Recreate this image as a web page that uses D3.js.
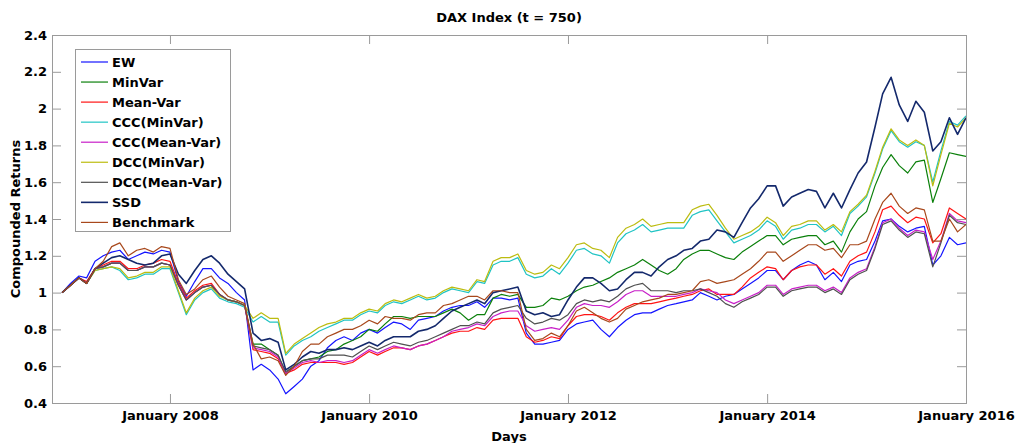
<!DOCTYPE html>
<html>
<head>
<meta charset="utf-8">
<script src="https://cdn.jsdelivr.net/npm/d3@7"></script>
<style>
    body { margin: 0; background: #fff; }
    svg text { font-family: "DejaVu Sans", Verdana, sans-serif; font-weight: bold; font-size: 13px; fill: #000; }
</style>
</head>
<body>
<svg id="chart" width="1017" height="443"></svg>
<script>
/*
 *  Data (monthly, Dec 2006 .. Jan 2016).
 */
const months = d3.timeMonth.range(new Date(2006, 11, 1), new Date(2016, 0, 2));

const names = ["EW", "MinVar", "Mean-Var", "CCC(MinVar)", "CCC(Mean-Var)",
               "DCC(MinVar)", "DCC(Mean-Var)", "SSD", "Benchmark"];

const ew = [1.00,1.05,1.09,1.08,1.17,1.20,1.22,1.23,1.18,1.20,
            1.22,1.21,1.23,1.22,1.06,0.98,1.06,1.13,1.13,1.08,
            1.05,1.00,0.96,0.58,0.61,0.58,0.53,0.45,0.49,0.53,
            0.60,0.63,0.70,0.74,0.76,0.74,0.78,0.80,0.78,0.81,
            0.84,0.83,0.80,0.85,0.86,0.87,0.90,0.92,0.93,0.93,
            0.95,0.92,0.97,0.97,0.96,0.97,0.78,0.72,0.72,0.73,
            0.74,0.80,0.83,0.84,0.85,0.80,0.76,0.81,0.85,0.88,
            0.89,0.89,0.91,0.93,0.94,0.95,0.96,1.00,0.98,0.96,
            0.98,0.99,1.02,1.05,1.08,1.12,1.12,1.07,1.12,1.15,
            1.17,1.15,1.07,1.11,1.06,1.15,1.17,1.18,1.28,1.39,
            1.40,1.36,1.33,1.35,1.36,1.15,1.20,1.30,1.26,1.27];

const minVar = [1.00,1.04,1.08,1.05,1.13,1.14,1.16,1.16,1.12,1.12,
                1.14,1.14,1.16,1.15,1.04,0.96,1.00,1.03,1.04,0.99,
                0.96,0.95,0.93,0.72,0.72,0.69,0.66,0.56,0.60,0.63,
                0.64,0.65,0.68,0.69,0.72,0.74,0.76,0.80,0.79,0.83,
                0.87,0.87,0.86,0.87,0.87,0.87,0.89,0.91,0.89,0.85,
                0.88,0.88,0.97,0.99,0.98,0.99,0.92,0.92,0.93,0.97,
                0.96,0.98,1.01,1.03,1.04,1.06,1.08,1.11,1.13,1.15,
                1.18,1.15,1.12,1.10,1.13,1.18,1.21,1.23,1.23,1.21,
                1.19,1.18,1.22,1.25,1.28,1.31,1.31,1.26,1.29,1.30,
                1.31,1.31,1.26,1.28,1.22,1.33,1.40,1.44,1.58,1.68,
                1.75,1.69,1.65,1.71,1.72,1.49,1.62,1.76,1.75,1.74];

const meanVar = [1.00,1.04,1.08,1.06,1.13,1.15,1.17,1.17,1.13,1.13,
                 1.15,1.16,1.18,1.17,1.05,0.97,1.01,1.04,1.05,0.99,
                 0.96,0.95,0.93,0.69,0.68,0.67,0.64,0.56,0.58,0.61,
                 0.62,0.62,0.62,0.62,0.61,0.62,0.65,0.68,0.66,0.68,
                 0.70,0.70,0.69,0.71,0.72,0.74,0.76,0.78,0.79,0.79,
                 0.81,0.80,0.85,0.86,0.86,0.86,0.76,0.73,0.74,0.76,
                 0.75,0.82,0.87,0.88,0.88,0.87,0.85,0.89,0.92,0.94,
                 0.94,0.94,0.95,0.96,0.97,0.98,0.99,1.01,1.02,0.99,
                 0.99,0.99,1.03,1.08,1.11,1.14,1.13,1.07,1.12,1.14,
                 1.15,1.15,1.10,1.13,1.09,1.17,1.20,1.22,1.33,1.45,
                 1.47,1.42,1.38,1.41,1.40,1.27,1.32,1.46,1.43,1.40];

const cccMinVar = [1.00,1.04,1.08,1.05,1.12,1.13,1.14,1.12,1.07,1.08,
                   1.10,1.10,1.13,1.13,1.00,0.88,0.96,1.00,1.02,0.97,
                   0.95,0.94,0.92,0.84,0.87,0.84,0.84,0.66,0.71,0.74,
                   0.76,0.79,0.81,0.83,0.85,0.85,0.88,0.90,0.89,0.93,
                   0.95,0.94,0.96,0.98,0.96,0.97,1.00,1.02,1.01,1.00,
                   1.06,1.05,1.15,1.17,1.17,1.19,1.10,1.08,1.09,1.13,
                   1.10,1.16,1.23,1.24,1.21,1.20,1.16,1.27,1.32,1.34,
                   1.37,1.33,1.34,1.35,1.35,1.35,1.42,1.44,1.45,1.39,
                   1.33,1.27,1.29,1.31,1.34,1.39,1.36,1.29,1.34,1.35,
                   1.37,1.37,1.33,1.36,1.31,1.43,1.47,1.52,1.65,1.78,
                   1.88,1.82,1.79,1.82,1.80,1.60,1.77,1.93,1.91,1.96];

const cccMeanVar = [1.00,1.04,1.08,1.05,1.13,1.14,1.16,1.16,1.12,1.12,
                    1.14,1.14,1.16,1.15,1.04,0.96,1.00,1.03,1.04,0.99,
                    0.96,0.95,0.93,0.70,0.69,0.68,0.65,0.56,0.59,0.62,
                    0.63,0.62,0.63,0.63,0.62,0.63,0.66,0.69,0.67,0.69,
                    0.71,0.70,0.69,0.71,0.72,0.74,0.76,0.79,0.80,0.81,
                    0.83,0.82,0.87,0.89,0.90,0.90,0.82,0.79,0.80,0.81,
                    0.80,0.85,0.92,0.94,0.93,0.93,0.92,0.95,0.99,1.01,
                    1.01,0.98,0.98,0.98,0.98,0.99,1.00,1.02,1.01,1.00,
                    0.96,0.94,0.96,0.98,1.00,1.04,1.04,0.99,1.02,1.03,
                    1.04,1.04,1.01,1.03,1.00,1.08,1.11,1.13,1.25,1.38,
                    1.40,1.35,1.31,1.34,1.33,1.18,1.28,1.43,1.39,1.38];

const dccMinVar = [1.00,1.04,1.08,1.05,1.12,1.13,1.14,1.13,1.08,1.09,
                   1.11,1.11,1.14,1.14,1.01,0.89,0.97,1.01,1.03,0.98,
                   0.96,0.95,0.93,0.86,0.89,0.86,0.86,0.67,0.72,0.75,
                   0.78,0.81,0.83,0.84,0.86,0.86,0.89,0.91,0.90,0.94,
                   0.96,0.95,0.97,0.99,0.97,0.98,1.01,1.03,1.02,1.01,
                   1.07,1.06,1.17,1.19,1.19,1.21,1.12,1.10,1.11,1.15,
                   1.13,1.19,1.26,1.27,1.24,1.23,1.19,1.30,1.35,1.37,
                   1.40,1.36,1.37,1.38,1.38,1.38,1.45,1.47,1.48,1.42,
                   1.35,1.29,1.31,1.33,1.36,1.41,1.38,1.31,1.36,1.37,
                   1.39,1.39,1.34,1.37,1.33,1.44,1.48,1.53,1.66,1.79,
                   1.89,1.83,1.80,1.83,1.80,1.58,1.75,1.92,1.90,1.95];

const dccMeanVar = [1.00,1.04,1.08,1.05,1.13,1.14,1.16,1.16,1.12,1.12,
                    1.14,1.14,1.16,1.15,1.04,0.96,1.00,1.03,1.04,0.99,
                    0.96,0.95,0.93,0.71,0.70,0.69,0.66,0.57,0.60,0.63,
                    0.64,0.64,0.66,0.66,0.66,0.65,0.68,0.71,0.69,0.71,
                    0.73,0.72,0.71,0.73,0.74,0.76,0.78,0.80,0.82,0.82,
                    0.84,0.83,0.89,0.91,0.92,0.93,0.86,0.83,0.84,0.86,
                    0.85,0.88,0.94,0.96,0.95,0.96,0.95,0.98,1.02,1.04,
                    1.05,1.01,1.01,1.01,1.00,1.01,1.01,1.02,1.00,0.98,
                    0.94,0.92,0.95,0.97,0.99,1.03,1.03,0.98,1.01,1.02,
                    1.03,1.03,1.00,1.02,0.99,1.07,1.10,1.12,1.24,1.37,
                    1.39,1.34,1.30,1.33,1.32,1.14,1.27,1.42,1.38,1.37];

const ssd = [1.00,1.04,1.08,1.05,1.13,1.16,1.19,1.20,1.18,1.16,
             1.15,1.16,1.20,1.21,1.10,1.05,1.12,1.18,1.20,1.16,
             1.10,1.06,1.02,0.78,0.74,0.75,0.73,0.58,0.61,0.65,
             0.68,0.67,0.69,0.69,0.70,0.69,0.71,0.73,0.71,0.74,
             0.76,0.76,0.76,0.79,0.80,0.82,0.86,0.90,0.92,0.94,
             0.96,0.94,1.00,1.01,1.02,1.03,0.90,0.88,0.89,0.87,
             0.88,0.96,1.03,1.08,1.08,1.05,1.01,1.02,1.07,1.11,
             1.11,1.09,1.14,1.18,1.20,1.23,1.24,1.28,1.29,1.34,
             1.33,1.30,1.38,1.46,1.51,1.58,1.58,1.47,1.52,1.54,
             1.56,1.55,1.46,1.54,1.46,1.56,1.65,1.71,1.90,2.08,
             2.17,2.02,1.93,2.04,1.98,1.77,1.82,1.95,1.86,1.95];

const benchmark = [1.00,1.04,1.08,1.05,1.13,1.17,1.25,1.27,1.20,1.23,
                   1.24,1.22,1.25,1.24,1.07,0.99,1.02,1.07,1.09,1.03,
                   0.98,0.96,0.94,0.72,0.64,0.65,0.63,0.55,0.60,0.68,
                   0.72,0.72,0.76,0.78,0.80,0.80,0.82,0.85,0.83,0.87,
                   0.86,0.86,0.85,0.88,0.89,0.89,0.93,0.94,0.96,0.98,
                   0.98,0.96,1.01,1.01,1.00,1.00,0.80,0.74,0.75,0.78,
                   0.76,0.82,0.90,0.92,0.89,0.86,0.84,0.86,0.91,0.93,
                   0.95,0.96,0.97,0.99,0.99,1.00,1.01,1.06,1.07,1.05,
                   1.06,1.07,1.10,1.13,1.17,1.22,1.22,1.17,1.20,1.23,
                   1.26,1.26,1.23,1.24,1.19,1.26,1.26,1.28,1.40,1.49,
                   1.54,1.47,1.43,1.46,1.45,1.28,1.28,1.40,1.33,1.37];

const seriesValues = [ew, minVar, meanVar, cccMinVar, cccMeanVar, dccMinVar, dccMeanVar, ssd, benchmark];

const xTickYears = [2008, 2010, 2012, 2014, 2016];
const yTicks = [0.4, 0.6, 0.8, 1.0, 1.2, 1.4, 1.6, 1.8, 2.0, 2.2, 2.4];

/*
 *  Look.
 */
const colors = ["#1414ff", "#0b800b", "#ff1414", "#20c4c4", "#c820c8",
                "#bcbc10", "#505050", "#14296c", "#a8481c"];
const widths = [1.2, 1.2, 1.2, 1.2, 1.2, 1.2, 1.2, 1.6, 1.2];
const axisColor = "#9a9a9a";

const plotLeft = 52, plotRight = 966, plotTop = 35, plotBottom = 403;

let svg = d3.select("#chart");

let x = d3.scaleTime()
    .domain([new Date(2006, 9, 25), new Date(2016, 0, 1)])
    .range([plotLeft, plotRight]);

let y = d3.scaleLinear()
    .domain([0.4, 2.4])
    .range([plotBottom, plotTop]);

let xTicks = xTickYears.map(yr => new Date(yr, 0, 1));
let fmtY = d => String(+d.toFixed(1));

/*
 *  Axes: labelled bottom/left, tick-only top/right, ticks pointing in.
 */
svg.append("g")
    .attr("transform", "translate(0," + plotBottom + ")")
    .call(d3.axisBottom(x).tickValues(xTicks).tickSize(-9).tickSizeOuter(0).tickPadding(8)
        .tickFormat(d3.timeFormat("January %Y")));

svg.append("g")
    .attr("transform", "translate(0," + plotTop + ")")
    .call(d3.axisTop(x).tickValues(xTicks).tickSize(-9).tickSizeOuter(0).tickFormat(""));

svg.append("g")
    .attr("transform", "translate(" + plotLeft + ",0)")
    .call(d3.axisLeft(y).tickValues(yTicks).tickSize(-9).tickSizeOuter(0).tickPadding(5).tickFormat(fmtY));

svg.append("g")
    .attr("transform", "translate(" + plotRight + ",0)")
    .call(d3.axisRight(y).tickValues(yTicks).tickSize(-9).tickSizeOuter(0).tickFormat(""));

svg.selectAll(".domain").remove();
svg.selectAll(".tick line").attr("stroke", axisColor);
svg.selectAll(".tick text")
    .attr("fill", "#000")
    .style("font-family", "'DejaVu Sans', Verdana, sans-serif")
    .style("font-weight", "bold")
    .style("font-size", "13px");

svg.append("rect")
    .attr("x", plotLeft + 0.5)
    .attr("y", plotTop + 0.5)
    .attr("width", plotRight - plotLeft)
    .attr("height", plotBottom - plotTop)
    .attr("fill", "none")
    .attr("stroke", axisColor);

/*
 *  Lines.
 */
svg.append("clipPath").attr("id", "plot-clip")
    .append("rect")
    .attr("x", plotLeft).attr("y", plotTop)
    .attr("width", plotRight - plotLeft).attr("height", plotBottom - plotTop);

let line = d3.line()
    .x((d, i) => x(months[i]))
    .y(d => y(d));

let plot = svg.append("g").attr("clip-path", "url(#plot-clip)");

for(let s = 0; s < seriesValues.length; s++) {
    plot.append("path")
        .attr("d", line(seriesValues[s]))
        .attr("fill", "none")
        .attr("stroke", colors[s])
        .attr("stroke-width", widths[s])
        .attr("stroke-linejoin", "round");
}

/*
 *  Titles.
 */
svg.append("text")
    .attr("x", (plotLeft + plotRight) / 2)
    .attr("y", 22)
    .attr("text-anchor", "middle")
    .text("DAX Index (t = 750)");

svg.append("text")
    .attr("x", (plotLeft + plotRight) / 2)
    .attr("y", 441)
    .attr("text-anchor", "middle")
    .text("Days");

svg.append("text")
    .attr("transform", "translate(20," + (plotTop + plotBottom) / 2 + ") rotate(-90)")
    .attr("text-anchor", "middle")
    .text("Compounded Returns");

/*
 *  Legend.
 */
let legend = svg.append("g");

legend.append("rect")
    .attr("x", 75.5)
    .attr("y", 49.5)
    .attr("width", 155)
    .attr("height", 182)
    .attr("fill", "#fff")
    .attr("stroke", axisColor);

names.forEach((name, i) => {
    let cy = 62 + i * 20.05;
    legend.append("line")
        .attr("x1", 81).attr("x2", 108)
        .attr("y1", cy).attr("y2", cy)
        .attr("stroke", colors[i])
        .attr("stroke-width", widths[i]);
    legend.append("text")
        .attr("x", 112)
        .attr("y", cy)
        .attr("dy", "0.36em")
        .text(name);
});
</script>
</body>
</html>
